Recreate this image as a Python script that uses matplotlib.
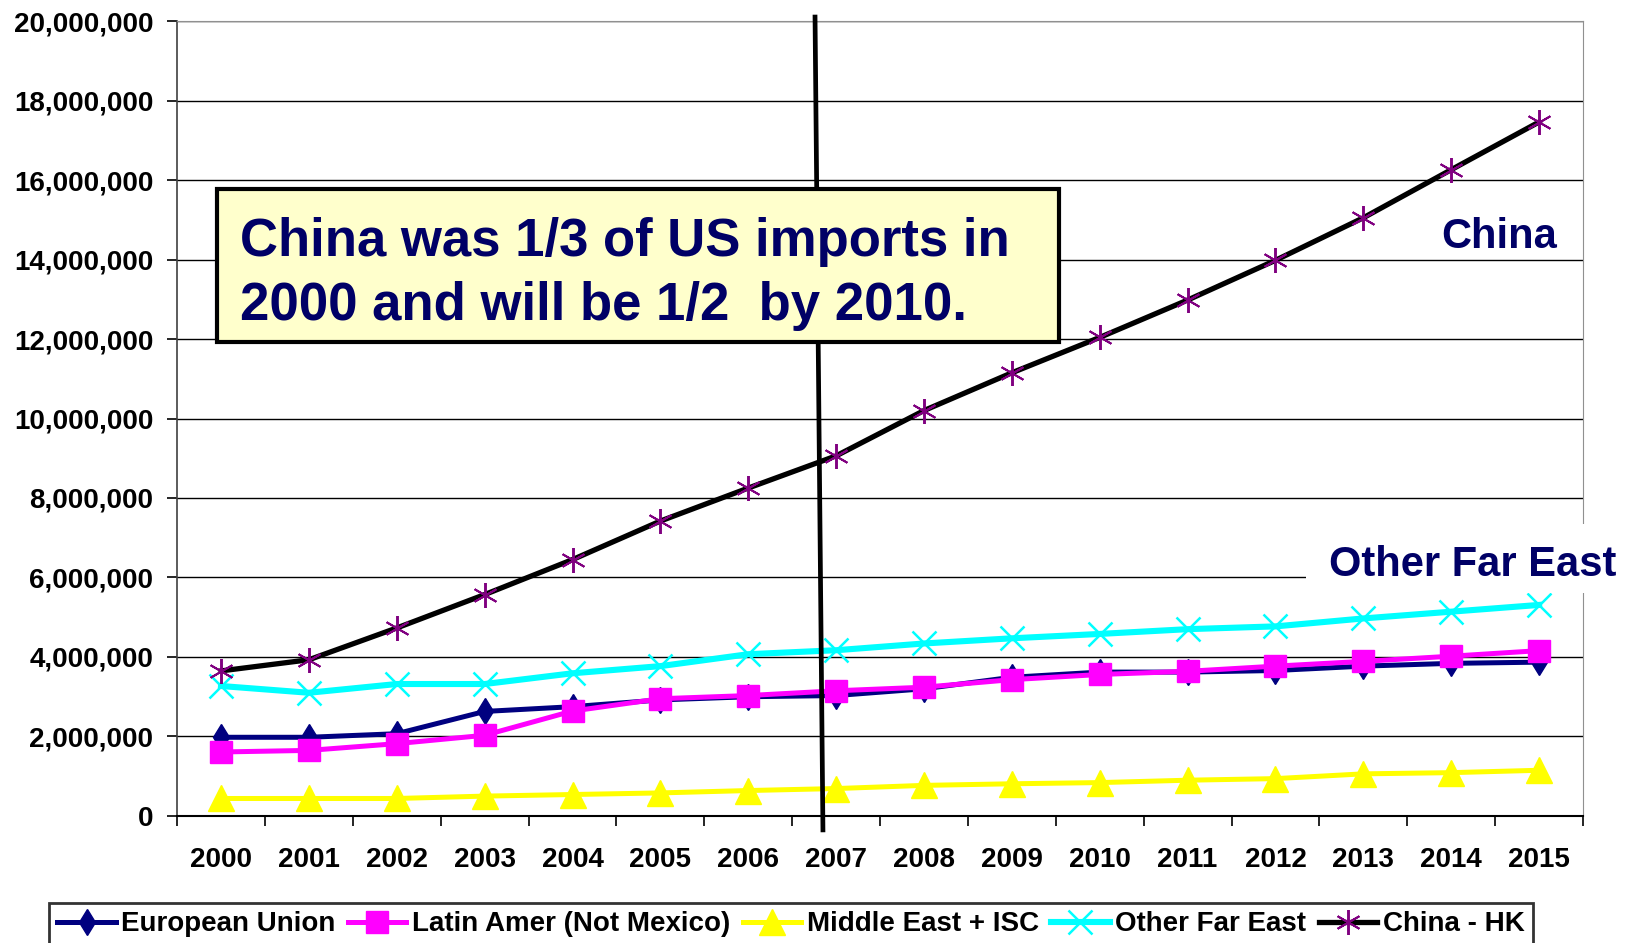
import numpy as np
import matplotlib
matplotlib.use("Agg")
import matplotlib.pyplot as plt
from matplotlib.patches import Rectangle
from matplotlib.ticker import FuncFormatter, FixedLocator

plt.rcParams['font.family'] = ['Liberation Sans', 'DejaVu Sans']
plt.rcParams['font.weight'] = 'bold'

years = [str(y) for y in range(2000, 2016)]

european_union = [1.98, 1.98, 2.07, 2.63, 2.75, 2.92, 3.00, 3.03,
                  3.20, 3.49, 3.62, 3.62, 3.66, 3.77, 3.84, 3.87]
latin_amer = [1.61, 1.65, 1.82, 2.03, 2.64, 2.95, 3.03, 3.15,
              3.24, 3.43, 3.56, 3.64, 3.77, 3.89, 4.02, 4.16]
middle_east = [0.44, 0.44, 0.44, 0.50, 0.54, 0.58, 0.64, 0.69,
               0.77, 0.81, 0.84, 0.90, 0.94, 1.06, 1.09, 1.15]
other_far_east = [3.27, 3.10, 3.32, 3.32, 3.59, 3.77, 4.07, 4.17,
                  4.34, 4.47, 4.58, 4.70, 4.77, 4.97, 5.14, 5.31]
china_hk = [3.65, 3.93, 4.73, 5.57, 6.45, 7.42, 8.25, 9.06,
            10.20, 11.15, 12.04, 12.98, 13.98, 15.05, 16.26, 17.46]

scale = 1e6
navy = '#000080'
text_navy = '#000066'

fig = plt.figure(figsize=(16.32, 9.43), dpi=100)
ax = fig.add_axes([0.1085, 0.1347, 0.8615, 0.843])

x = np.arange(len(years))

series = [
    ("European Union", european_union, dict(color=navy, lw=3.6, marker='d', ms=13,
                                            mfc=navy, mec=navy)),
    ("Latin Amer (Not Mexico)", latin_amer, dict(color='#FF00FF', lw=3.6, marker='s', ms=16,
                                                 mfc='#FF00FF', mec='#FF00FF')),
    ("Middle East + ISC", middle_east, dict(color='#FFFF00', lw=3.6, marker='^', ms=19,
                                           mfc='#FFFF00', mec='#FFFF00')),
    ("Other Far East", other_far_east, dict(color='#00FFFF', lw=4.4, marker='x', ms=17,
                                            mew=1.8, mec='#00FFFF')),
    ("China - HK", china_hk, dict(color='black', lw=3.8, marker=(6, 2, 0), ms=18,
                                  mew=1.4, mec='#800080')),
]

handles = []
for label, vals, style in series:
    h, = ax.plot(x, np.array(vals) * scale, label=label, zorder=3, **style)
    handles.append(h)

ax.set_xlim(-0.5, len(years) - 0.5)
ax.set_ylim(0, 20e6)

ax.yaxis.set_major_locator(FixedLocator(np.arange(0, 20e6 + 1, 2e6)))
ax.yaxis.set_major_formatter(FuncFormatter(lambda v, p: f"{v:,.0f}"))
ax.set_xticks(x)
ax.set_xticklabels(years)
ax.set_xticks(np.arange(-0.5, len(years)), minor=True)

ax.tick_params(axis='x', which='major', length=0, pad=22, labelsize=20)
ax.tick_params(axis='x', which='minor', length=7, width=1.2, direction='out', color='black')
ax.tick_params(axis='y', which='major', length=7, width=1.2, direction='out', pad=10,
               labelsize=20, color='black')
for t in ax.get_xticklabels() + ax.get_yticklabels():
    t.set_fontweight('bold')

ax.grid(axis='y', color='black', lw=1.0)
ax.set_axisbelow(True)
ax.spines['top'].set_color('#909090')
ax.spines['right'].set_color('#909090')
ax.spines['left'].set_color('#404040')
ax.spines['bottom'].set_color('black')
ax.spines['bottom'].set_linewidth(1.5)
ax.spines['left'].set_linewidth(1.2)

# marker line at the 2007 boundary, running past the plot area
ax.plot([6.76, 6.85], [20.1e6, -0.35e6], color='black', lw=3.4, clip_on=False, zorder=4)

# callout box
ax.add_patch(Rectangle((0.0281, 0.5957), 0.5989, 0.1925, transform=ax.transAxes,
                       facecolor='#FFFFCC', edgecolor='black', lw=3, zorder=5))
ax.text(0.0448, 0.7044, "China was 1/3 of US imports in", transform=ax.transAxes,
        fontsize=38, fontweight='bold', color=text_navy, va='baseline', ha='left', zorder=6)
ax.text(0.0448, 0.6245, "2000 and will be 1/2  by 2010.", transform=ax.transAxes,
        fontsize=38, fontweight='bold', color=text_navy, va='baseline', ha='left', zorder=6)

# series labels
ax.text(0.9815, 0.7144, "China", transform=ax.transAxes, fontsize=30, fontweight='bold',
        color=text_navy, ha='right', va='baseline', zorder=6)
ax.add_patch(Rectangle((0.803, 0.2805), 0.232, 0.0874, transform=ax.transAxes,
                       facecolor='white', edgecolor='none', zorder=5, clip_on=False))
ax.text(0.8194, 0.3017, "Other Far East", transform=ax.transAxes, fontsize=30,
        fontweight='bold', color=text_navy, ha='left', va='baseline', zorder=6, clip_on=False)

leg = fig.legend(handles=handles, labels=[s[0] for s in series], loc='upper left',
                 bbox_to_anchor=(49 / 1632, 1 - 903 / 943), ncol=5, frameon=True,
                 fancybox=False, edgecolor='black', borderaxespad=0, handlelength=2.1,
                 handletextpad=0.2, columnspacing=0.45, borderpad=0.3,
                 prop={'size': 20, 'weight': 'bold'})
leg.get_frame().set_linewidth(2)

fig.savefig("out.png", dpi=100)
